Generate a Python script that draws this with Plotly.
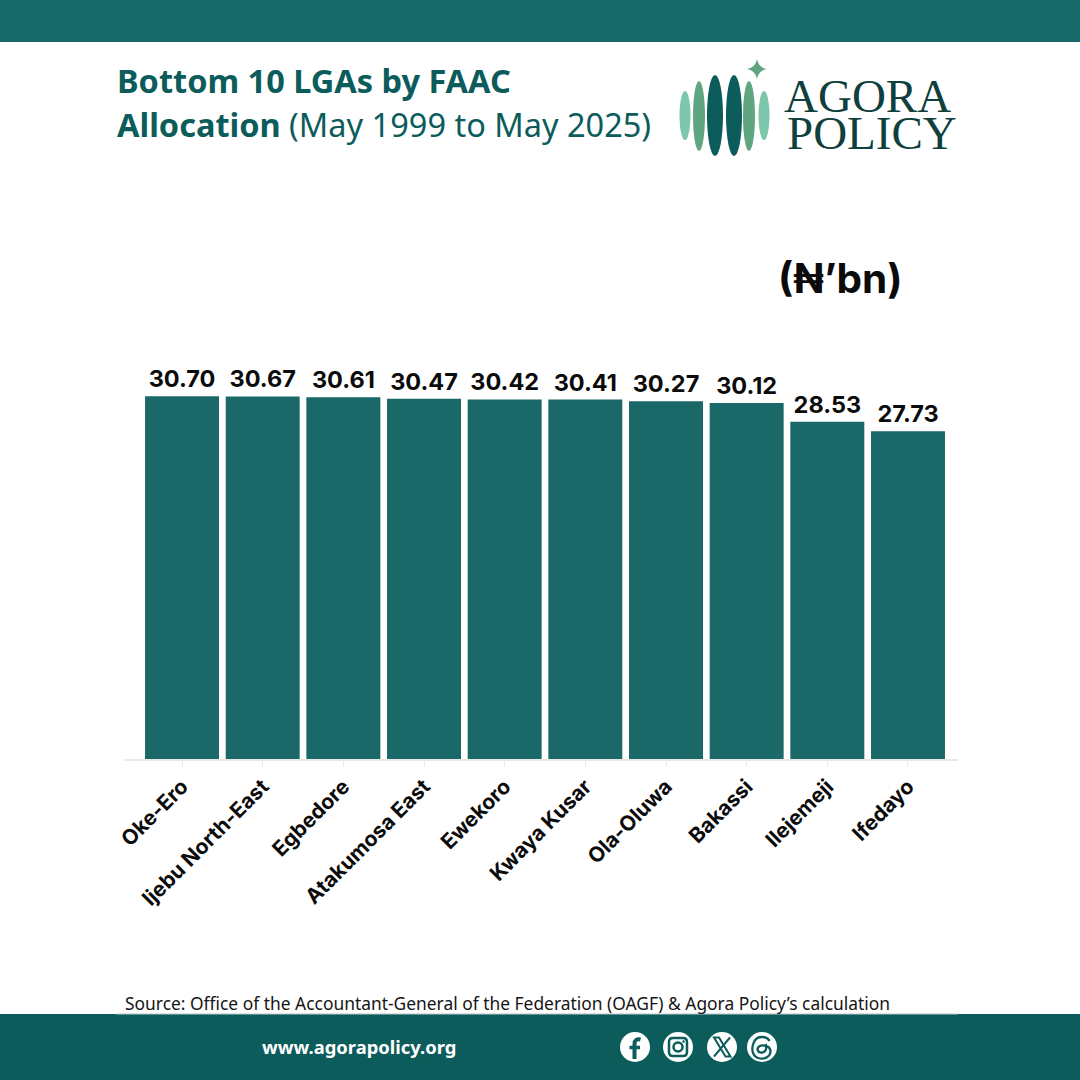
import re
import plotly.graph_objects as go

lgas = ["Oke-Ero", "Ijebu North-East", "Egbedore", "Atakumosa East", "Ewekoro",
        "Kwaya Kusar", "Ola-Oluwa", "Bakassi", "Ilejemeji", "Ifedayo"]
allocation_bn = [30.70, 30.67, 30.61, 30.47, 30.42, 30.41, 30.27, 30.12, 28.53, 27.73]

SIZE = 1080
BAR = "#1A6868"
TEAL = "#0C5C5C"
BAND = "#17696A"
FONT = "Inter"
BODY = "Noto Sans"


def px(x):
    return x / SIZE


def py(y):
    return 1 - y / SIZE


def rect(x0, y0, x1, y1, color):
    return dict(type="rect", xref="paper", yref="paper", x0=px(x0), x1=px(x1),
                y0=py(y1), y1=py(y0), fillcolor=color, line_width=0, layer="below")


def oval(cx, cy, w, h, color, line=None, line_w=0):
    return dict(type="circle", xref="paper", yref="paper",
                x0=px(cx - w / 2), x1=px(cx + w / 2), y0=py(cy + h / 2), y1=py(cy - h / 2),
                fillcolor=color, line=dict(color=line or color, width=line_w), layer="above")


def pixel_path(d, fill=None, line=None, line_w=0):
    """SVG path written in pixels, converted to paper coordinates."""
    def convert(m):
        return f"{px(float(m.group(1))):.5f},{py(float(m.group(2))):.5f}"
    return dict(type="path", xref="paper", yref="paper",
                path=re.sub(r"([\d.]+),([\d.]+)", convert, d),
                fillcolor=fill or "rgba(0,0,0,0)",
                line=dict(color=line or "rgba(0,0,0,0)", width=line_w), layer="above")


def label(x, y, text, size, color, anchor="left", family=FONT):
    return dict(xref="paper", yref="paper", x=px(x), y=py(y), text=text, showarrow=False,
                xanchor=anchor, yanchor="middle", align="left",
                font=dict(family=family, size=size, color=color))


fig = go.Figure(go.Bar(
    x=lgas, y=allocation_bn, width=0.917, marker=dict(color=BAR, line_width=0),
    text=[f"{v:.2f}" for v in allocation_bn], textposition="outside", cliponaxis=False,
    textfont=dict(family=FONT, size=23.5, color="#0b0b0b", weight=700),
    hoverinfo="x+y",
))

shapes = [rect(0, 0, SIZE, 42, BAND), rect(0, 1014, SIZE, 1080, TEAL),
          rect(116, 1013.5, 958, 1014.5, "#b8c8c8")]

# Logo: six upright petals and a four-point star
for cx, w, h, cy, col in [(685, 11, 49, 115.5, "#7CC7AC"), (699, 12, 70, 116, "#5FA57F"),
                          (715, 16, 81, 115.5, TEAL), (734, 16, 81, 115.5, TEAL),
                          (749, 12, 70, 116, "#5FA57F"), (764, 11, 49, 115.5, "#7CC7AC")]:
    shapes.append(oval(cx, cy, w, h, col))
shapes.append(pixel_path(
    "M 757,59 Q 758.5,67.5 767,69 Q 758.5,70.5 757,79 Q 755.5,70.5 747,69 Q 755.5,67.5 757,59 Z",
    fill="#5FA57F"))

# Social icons in the footer
for cx in (635, 678, 722, 762):
    shapes.append(oval(cx, 1047, 30, 30, "#ffffff"))
shapes.append(pixel_path("M 640.5,1039.5 C 637,1038.5 634.5,1040 634.5,1044 L 634.5,1059", line=TEAL, line_w=4))
shapes.append(pixel_path("M 629.5,1047.5 L 640,1047.5", line=TEAL, line_w=3.5))
shapes.append(pixel_path(
    "M 673,1038 L 683,1038 Q 687,1038 687,1042 L 687,1052 Q 687,1056 683,1056 L 673,1056 "
    "Q 669,1056 669,1052 L 669,1042 Q 669,1038 673,1038 Z", line=TEAL, line_w=2.5))
shapes.append(oval(678, 1047, 9, 9, "rgba(0,0,0,0)", line=TEAL, line_w=2.5))
shapes.append(oval(683.5, 1041.5, 2.5, 2.5, TEAL))
shapes.append(pixel_path("M 714,1037.5 L 719,1037.5 L 730.5,1056.5 L 725.5,1056.5 Z", line=TEAL, line_w=2))
shapes.append(pixel_path("M 730,1037.5 L 714,1056.5", line=TEAL, line_w=2))
shapes.append(pixel_path(
    "M 769.5,1041 C 767,1036 757,1035 754,1042 C 751,1048 752,1056 758,1058 "
    "C 764,1060 770,1057 770.5,1052 C 771,1046 763,1044 759,1046.5 "
    "C 756,1049 758,1053 762,1052.5 C 766,1052 767,1048 765.5,1044",
    line=TEAL, line_w=2.3))

annotations = [
    label(115, 81, "<b>Bottom 10 LGAs by FAAC</b>", 32.5, TEAL, family=BODY),
    label(115, 124, "<b>Allocation</b> (May 1999 to May 2025)", 32.5, TEAL, family=BODY),
    label(782, 96, "AGORA", 47, "#0F403D", family="Liberation Serif"),
    label(785, 133, "POLICY", 47, "#0F403D", family="Liberation Serif"),
    label(776, 278, "<b>(₦’bn)</b>", 40.5, "#0b0b0b"),
    label(123, 1003, "Source: Office of the Accountant-General of the Federation (OAGF) &amp; Agora Policy’s calculation",
          17.4, "#151515", family=BODY),
    label(260, 1046, "<b>www.agorapolicy.org</b>", 18.4, "#ffffff", family=BODY),
]

fig.update_layout(
    width=SIZE, height=SIZE, autosize=False,
    margin=dict(l=0, r=0, t=0, b=0, autoexpand=False),
    paper_bgcolor="#ffffff", plot_bgcolor="#ffffff",
    showlegend=False, shapes=shapes, annotations=annotations,
    xaxis=dict(domain=[px(125), px(958)], range=[-0.707, 9.62], type="category",
               automargin=False, tickangle=-45, ticks="outside", ticklen=5,
               tickcolor="#e8e8e8", tickwidth=1,
               showline=True, linecolor="#e8e8e8", linewidth=2, showgrid=False,
               tickfont=dict(family=FONT, size=21, color="#0b0b0b", weight=700)),
    yaxis=dict(domain=[py(759), py(300)], range=[0, 459 / 11.82], visible=False),
)

fig.write_html("out.html", config=dict(displayModeBar=False))
